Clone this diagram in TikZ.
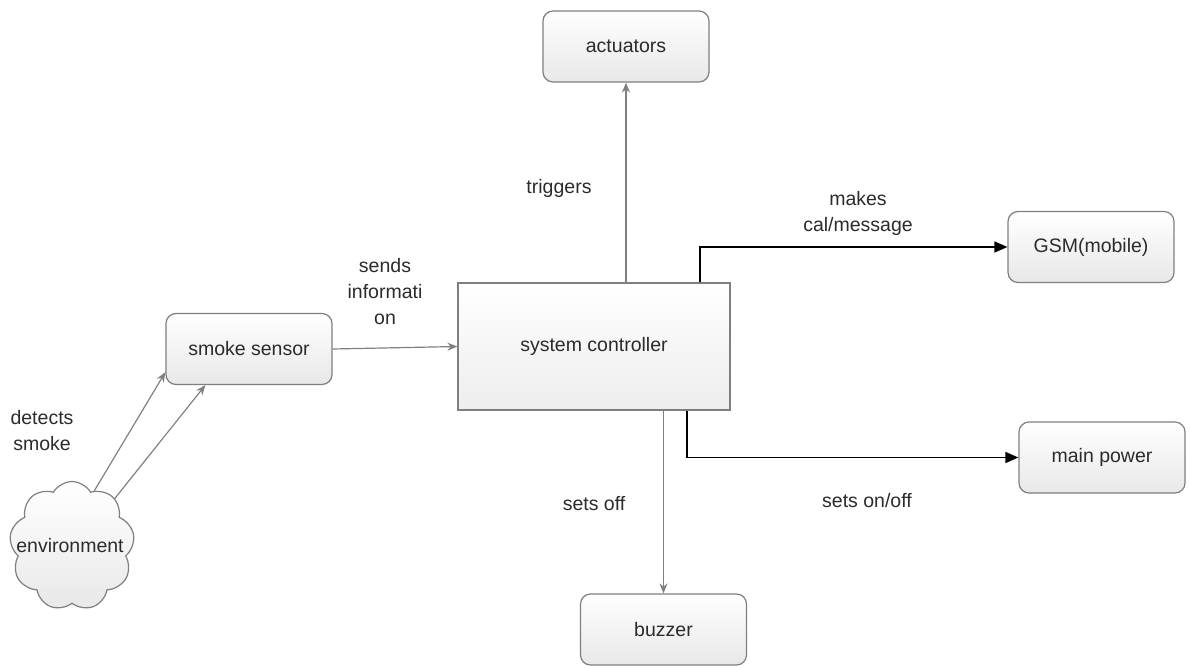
\documentclass[tikz,border=0pt]{standalone}
\usepackage{fontspec}
\setmainfont{Liberation Sans}
\usetikzlibrary{arrows.meta,shapes.symbols,calc}
\definecolor{boxgray}{HTML}{7F7F7F}
\definecolor{txt}{HTML}{2B2B2B}
\definecolor{linegray}{HTML}{808080}
\begin{document}
\begin{tikzpicture}[x=1pt,y=-1pt,
  font=\fontsize{19.5}{26}\selectfont,
  box/.style={draw=boxgray, line width=1.2pt, rounded corners=10pt,
    top color=white, bottom color=black!9, minimum width=166pt,
    minimum height=71pt, text=txt, inner sep=0pt},
  ctrlbox/.style={draw=boxgray, line width=1.2pt,
    top color=white, bottom color=black!7, minimum width=272pt,
    minimum height=127pt, text=txt, inner sep=0pt},
  cloudbox/.style={cloud, cloud puffs=9, cloud puff arc=120, aspect=0.95,
    draw=boxgray, line width=1.2pt, top color=white, bottom color=black!9,
    minimum width=125pt, minimum height=129pt, inner sep=0pt},
  lbl/.style={text=txt, inner sep=0pt, align=center},
  garrow/.style={draw=linegray, line width=1.2pt,
    -{Stealth[length=10pt,width=8pt]}},
  barrow/.style={draw=black, line width=1.5pt,
    -{Triangle[length=13pt,width=11pt]}}
]
\useasboundingbox (0,0) rectangle (1190,668);

\node[box] (act) at (626,46.5) {actuators};
\node[box] (gsm) at (1091,247) {GSM(mobile)};
\node[box] (sensor) at (249,349) {smoke sensor};
\node[ctrlbox] (ctrl) at (594,346.5) {system controller};
\node[box] (power) at (1102,457.5) {main power};
\node[box] (buzz) at (663.5,629.5) {buzzer};
\node[cloudbox] (env) at (72,546) {};
\node[lbl] (envtext) at (70,546) {environment};

\draw[garrow] (sensor.east) -- (ctrl.west);
\draw[garrow] (env.68) -- ([yshift=13pt]sensor.south west);
\draw[garrow] (env.48) -- ([xshift=40pt]sensor.south west);
\draw[garrow] (ctrl.north -| act.south) -- (act.south);
\draw[barrow] ([xshift=106pt]ctrl.north) |- (gsm.west);
\draw[barrow] ([xshift=93pt]ctrl.south) |- (power.west);
\draw[garrow] (ctrl.south -| buzz.north) -- (buzz.north);

\node[lbl] (ltrig) at (559,188) {triggers};
\node[lbl] (lmakes) at (858,213) {makes\\cal/message};
\node[lbl] (lsends) at (385,292) {sends\\informati\\on};
\node[lbl] (ldet) at (42,430.5) {detects\\smoke};
\node[lbl] (lsetsoff) at (594,504) {sets off};
\node[lbl] (lsetsonoff) at (867,501) {sets on/off};
\end{tikzpicture}
\end{document}
